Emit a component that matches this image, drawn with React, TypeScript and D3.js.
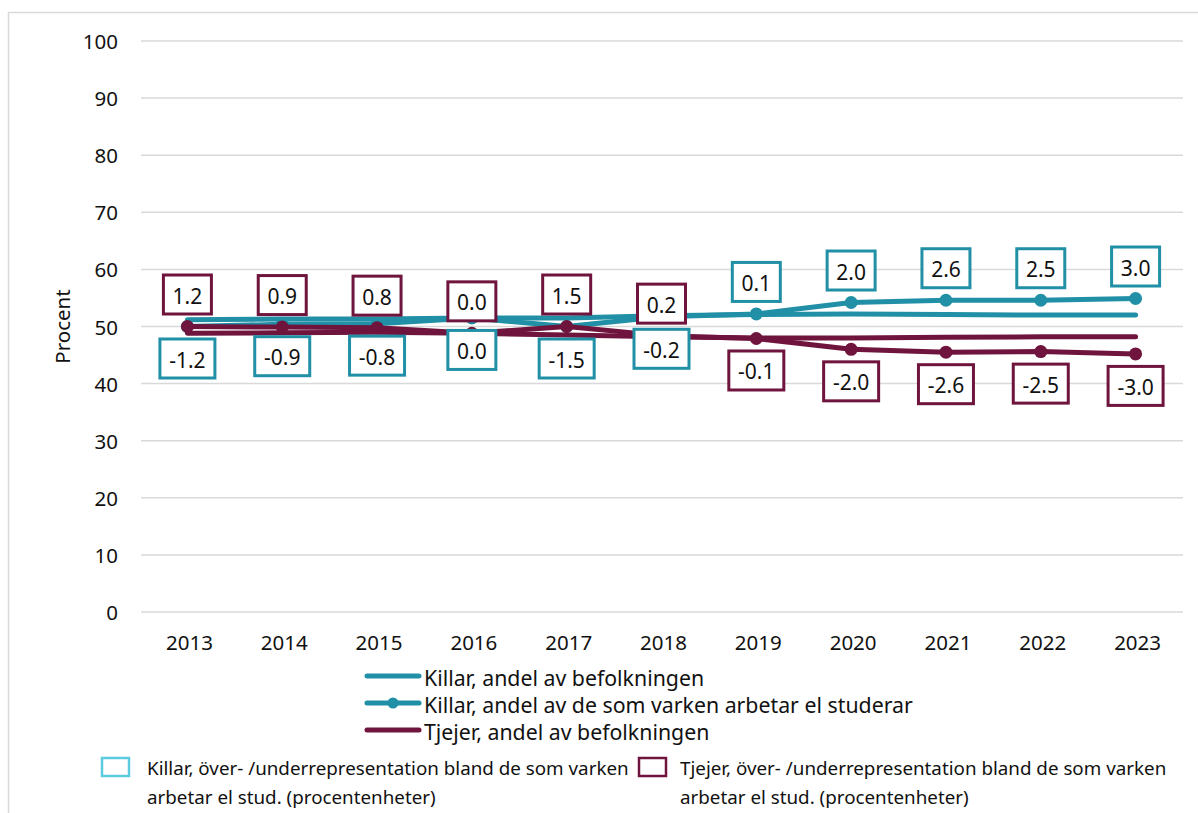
import React from "react";
import * as d3 from "d3";

const years = ["2013", "2014", "2015", "2016", "2017", "2018", "2019", "2020", "2021", "2022", "2023"];

// andel av befolkningen
const killarBef = [51.2, 51.3, 51.3, 51.5, 51.5, 51.9, 52.1, 52.2, 52.1, 52.0, 52.0];
const tjejerBef = [48.8, 48.9, 49.0, 48.8, 48.5, 48.2, 48.0, 48.0, 48.1, 48.2, 48.2];

// andel av de som varken arbetar el studerar
const killarNeet = [50.0, 50.4, 50.5, 51.5, 50.0, 51.7, 52.2, 54.2, 54.6, 54.6, 54.9];
const tjejerNeet = [50.0, 49.9, 49.8, 48.8, 50.0, 48.4, 47.9, 46.0, 45.5, 45.6, 45.2];

// över-/underrepresentation (procentenheter)
const killarDiff = [-1.2, -0.9, -0.8, 0.0, -1.5, -0.2, 0.1, 2.0, 2.6, 2.5, 3.0];
const tjejerDiff = [1.2, 0.9, 0.8, 0.0, 1.5, 0.2, -0.1, -2.0, -2.6, -2.5, -3.0];

const yTicks = [0, 10, 20, 30, 40, 50, 60, 70, 80, 90, 100];

const TEAL = "#2190a6";
const MAROON = "#6f143d";
const LIGHT_TEAL = "#5ccbe0";
const GRID = "#d9d9d9";
const FONT = "'Noto Sans', 'Open Sans', sans-serif";

const App = () => {
  const x = d3.scaleBand().domain(years).range([140, 1183]);
  const y = d3.scaleLinear().domain([0, 100]).range([612, 41]);
  const cx = (yr: string) => (x(yr) as number) + x.bandwidth() / 2;

  const line = d3
    .line<number>()
    .x((_, i) => cx(years[i]))
    .y((d) => y(d));

  const labelBox = (
    value: number,
    anchor: number,
    yr: string,
    above: boolean,
    color: string,
    key: string,
  ) => {
    const txt = value.toFixed(1);
    const w = txt.length * 7 + 27;
    const h = 39;
    const cy = y(anchor) + (above ? -32 : 32);
    return (
      <g key={key}>
        <rect
          x={cx(yr) - w / 2}
          y={cy - h / 2}
          width={w}
          height={h}
          fill="#fff"
          stroke={color}
          strokeWidth={3}
        />
        <text
          x={cx(yr)}
          y={cy + 1}
          textAnchor="middle"
          dominantBaseline="central"
          fontSize={21}
          fill="#111"
        >
          {txt}
        </text>
      </g>
    );
  };

  return (
    <svg
      width={1198}
      height={813}
      style={{ position: "absolute", left: 0, top: 0, fontFamily: FONT }}
    >
      <rect x={0} y={0} width={1198} height={813} fill="#fff" />
      <rect x={8.5} y={12.5} width={1300} height={900} fill="none" stroke={GRID} strokeWidth={1.5} />

      {/* grid + y axis */}
      {yTicks.map((t) => (
        <g key={t}>
          <line x1={141} x2={1183} y1={y(t)} y2={y(t)} stroke={GRID} strokeWidth={1.5} />
          <text x={118} y={y(t)} textAnchor="end" dominantBaseline="central" fontSize={20.5} fill="#111">
            {t}
          </text>
        </g>
      ))}
      <text
        transform={`translate(62, ${y(50)}) rotate(-90)`}
        textAnchor="middle"
        dominantBaseline="central"
        fontSize={20.5}
        fill="#111"
      >
        Procent
      </text>

      {/* x axis labels */}
      {years.map((yr) => (
        <text key={yr} x={cx(yr) + 2} y={642} textAnchor="middle" dominantBaseline="central" fontSize={20.5} fill="#111">
          {yr}
        </text>
      ))}

      {/* series */}
      <path d={line(killarBef) || ""} fill="none" stroke={TEAL} strokeWidth={5} strokeLinecap="round" strokeLinejoin="round" />
      <path d={line(killarNeet) || ""} fill="none" stroke={TEAL} strokeWidth={5} strokeLinecap="round" strokeLinejoin="round" />
      {killarNeet.map((v, i) => (
        <circle key={"kn" + i} cx={cx(years[i])} cy={y(v)} r={6.5} fill={TEAL} />
      ))}
      <path d={line(tjejerBef) || ""} fill="none" stroke={MAROON} strokeWidth={5} strokeLinecap="round" strokeLinejoin="round" />
      <path d={line(tjejerNeet) || ""} fill="none" stroke={MAROON} strokeWidth={5} strokeLinecap="round" strokeLinejoin="round" />
      {tjejerNeet.map((v, i) => (
        <circle key={"tn" + i} cx={cx(years[i])} cy={y(v)} r={6.5} fill={MAROON} />
      ))}

      {/* data labels */}
      {killarDiff.map((d, i) => labelBox(d, killarNeet[i], years[i], d > 0, TEAL, "kl" + i))}
      {tjejerDiff.map((d, i) => labelBox(d, tjejerNeet[i], years[i], d >= 0, MAROON, "tl" + i))}

      {/* legend lines */}
      {[
        { label: "Killar, andel av befolkningen", color: TEAL, dot: false },
        { label: "Killar, andel av de som varken arbetar el studerar", color: TEAL, dot: true },
        { label: "Tjejer, andel av befolkningen", color: MAROON, dot: false },
      ].map((l, i) => {
        const ly = 676 + i * 27;
        return (
          <g key={l.label}>
            <line x1={367} x2={419} y1={ly} y2={ly} stroke={l.color} strokeWidth={5} strokeLinecap="round" />
            {l.dot && <circle cx={393} cy={ly} r={5.5} fill={l.color} />}
            <text x={424} y={ly + 1} dominantBaseline="central" fontSize={21.3} fill="#111">
              {l.label}
            </text>
          </g>
        );
      })}

      {/* legend boxes */}
      <rect x={102} y={758} width={27} height={18} fill="#fff" stroke={LIGHT_TEAL} strokeWidth={2.5} />
      <text x={147} y={768} dominantBaseline="central" fontSize={18.8} fill="#111">
        Killar, över- /underrepresentation bland de som varken
      </text>
      <text x={147} y={797} dominantBaseline="central" fontSize={18.8} fill="#111">
        arbetar el stud. (procentenheter)
      </text>
      <rect x={639} y={758} width={27} height={18} fill="#fff" stroke={MAROON} strokeWidth={2.5} />
      <text x={680} y={768} dominantBaseline="central" fontSize={18.8} fill="#111">
        Tjejer, över- /underrepresentation bland de som varken
      </text>
      <text x={680} y={797} dominantBaseline="central" fontSize={18.8} fill="#111">
        arbetar el stud. (procentenheter)
      </text>
    </svg>
  );
};

export default App;
